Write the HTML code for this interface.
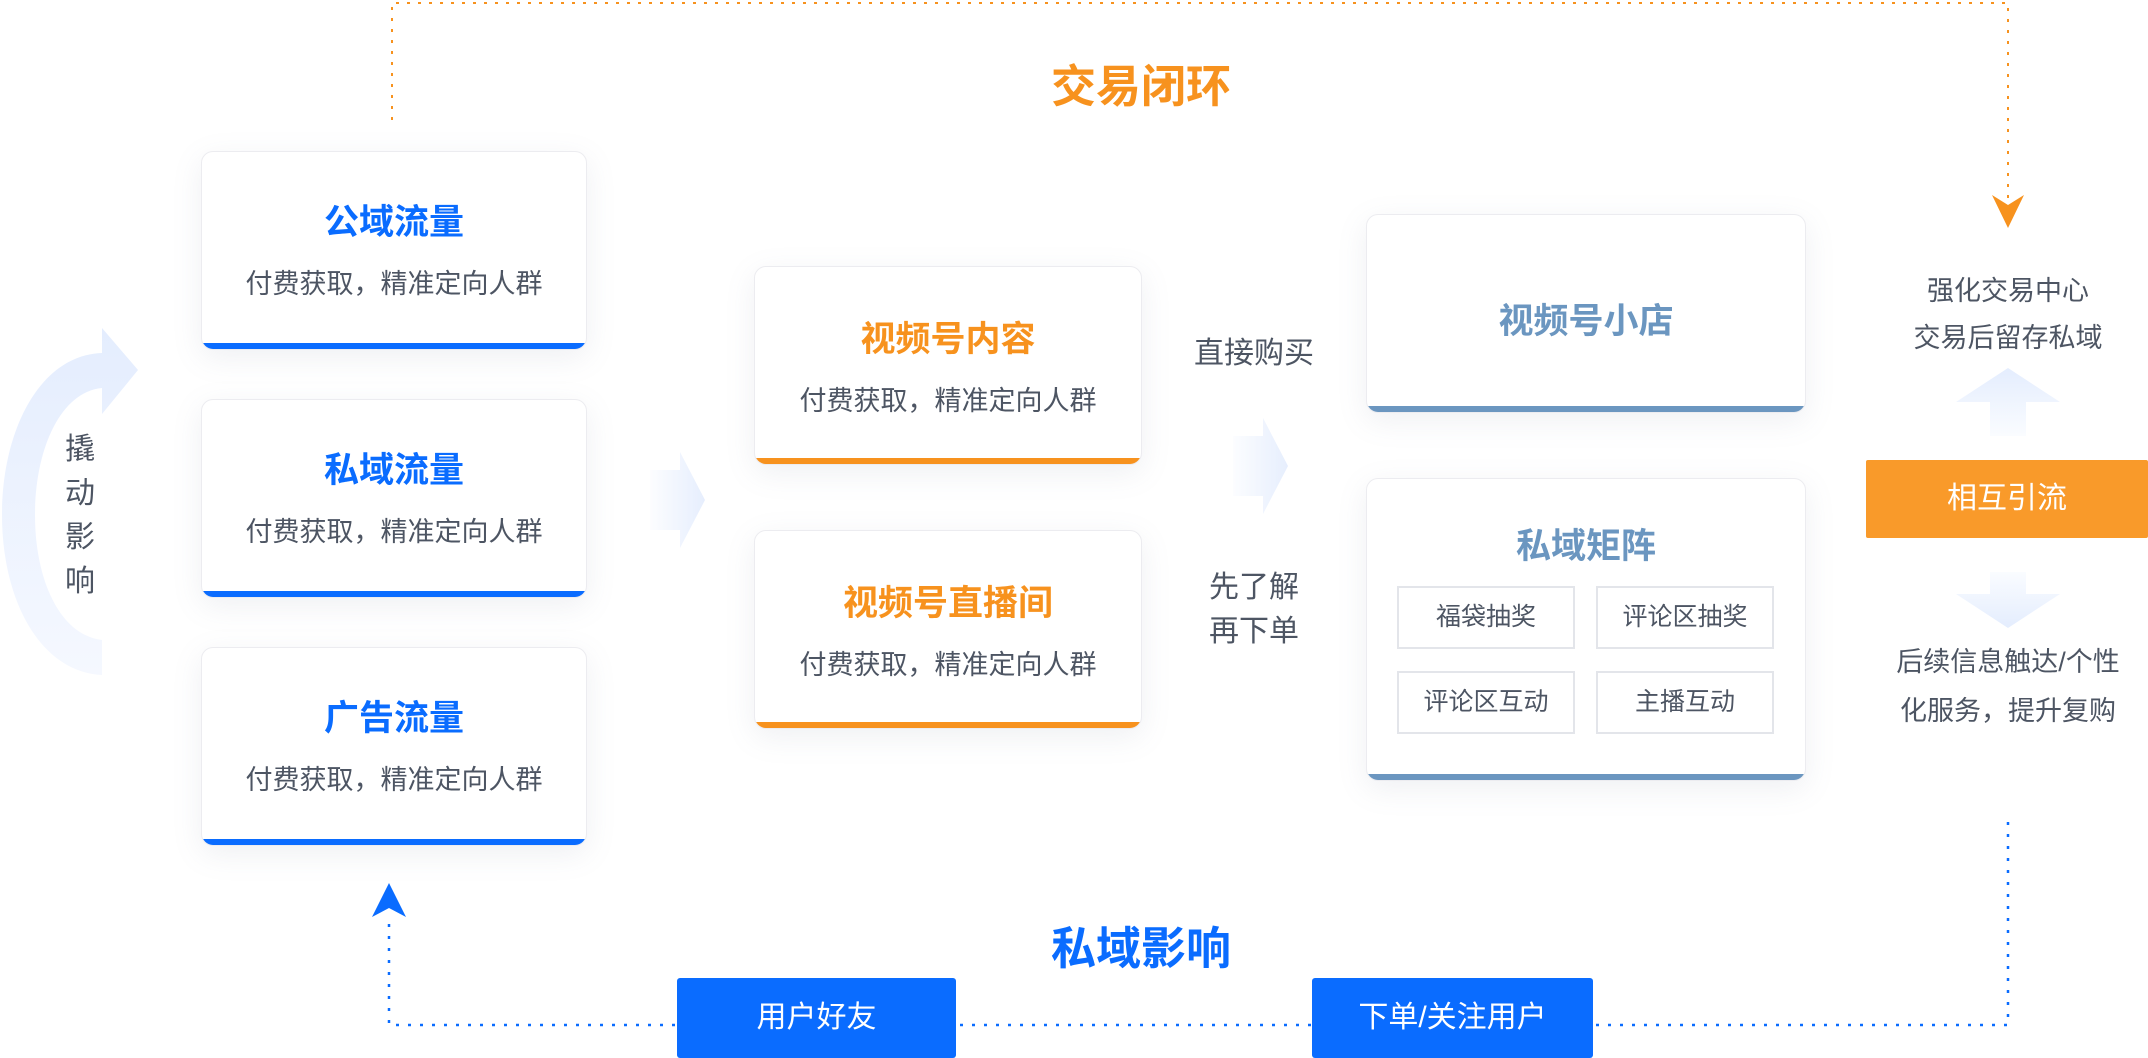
<!DOCTYPE html>
<html><head><meta charset="utf-8"><style>
body{margin:0;width:2148px;height:1058px;position:relative;background:#fff;overflow:hidden;font-family:"Liberation Sans","Noto Sans CJK SC",sans-serif;}
.a{position:absolute;}
.card{position:absolute;background:#fff;border:1px solid #ececf0;border-radius:12px;box-shadow:0 8px 30px rgba(120,130,160,0.12);box-sizing:border-box;overflow:hidden;}
.card .bar{position:absolute;left:0;right:0;bottom:0;height:6px;}
.t{position:absolute;left:0;right:0;text-align:center;white-space:nowrap;}
.sub{font-size:27px;color:#4d5563;}
.tb{font-size:35px;font-weight:bold;}
.sb{position:absolute;border:2px solid #e3e5ea;box-sizing:border-box;font-size:25px;color:#4d5563;text-align:center;width:178px;height:63px;line-height:59px;}
.btn{position:absolute;background:#0a6cff;color:#fff;font-size:30px;text-align:center;border-radius:3px;}
.gray{color:#4d5563;font-size:28px;text-align:center;white-space:nowrap;}
</style></head><body>
<svg class="a" style="left:0;top:0" width="2148" height="1058">
<defs>
<linearGradient id="g1" x1="0" y1="0" x2="0" y2="1"><stop offset="0" stop-color="#e4edfe"/><stop offset="1" stop-color="#f5f8ff"/></linearGradient>
<linearGradient id="g2" x1="0" y1="0" x2="1" y2="0"><stop offset="0" stop-color="#fcfdff"/><stop offset="1" stop-color="#e6eefd"/></linearGradient>
<linearGradient id="g3" x1="0" y1="1" x2="0" y2="0"><stop offset="0" stop-color="#fafcff"/><stop offset="1" stop-color="#e4edfe"/></linearGradient>
<linearGradient id="g4" x1="0" y1="0" x2="0" y2="1"><stop offset="0" stop-color="#fafcff"/><stop offset="1" stop-color="#e4edfe"/></linearGradient>
</defs>
<path d="M102,353 C40,355 2,430 2,515 C2,600 40,672 102,675 L102,640 C60,635 35,580 35,515 C35,450 60,392 102,388 L102,414 L138,370 L102,328 Z" fill="url(#g1)"/>
<path d="M650,470 L680,470 L680,452 L705,500 L680,548 L680,530 L650,530 Z" fill="url(#g2)"/>
<path d="M1233,436 L1263,436 L1263,418 L1288,466 L1263,514 L1263,496 L1233,496 Z" fill="url(#g2)"/>
<path d="M1990,436 L1990,402 L1956,402 L2008,368 L2060,402 L2026,402 L2026,436 Z" fill="url(#g3)"/>
<path d="M1990,572 L1990,594 L1956,594 L2008,628 L2060,594 L2026,594 L2026,572 Z" fill="url(#g4)"/>
<path d="M392,120 L392,3 L2008,3 L2008,200" fill="none" stroke="#f7921e" stroke-width="2" stroke-dasharray="3,8"/>
<path d="M1992,195 L2008,205 L2024,195 L2008,228 Z" fill="#f7921e"/>
<path d="M2008,822 L2008,1025 L389,1025 L389,915" fill="none" stroke="#0a6cff" stroke-width="2.5" stroke-dasharray="3,9"/>
<path d="M372,917 L389,883 L406,917 L389,908 Z" fill="#0a6cff"/>
</svg>
<div class="a" style="left:62px;top:428px;width:36px;font-size:30px;line-height:44px;color:#4d5563;text-align:center;">撬<br>动<br>影<br>响</div>
<div class="a" style="left:941px;top:50px;width:400px;text-align:center;font-size:45px;font-weight:bold;color:#f7921e;">交易闭环</div>
<div class="a" style="left:941px;top:912px;width:400px;text-align:center;font-size:45px;font-weight:bold;color:#0a6cff;">私域影响</div>

<div class="card" style="left:201px;top:151px;width:386px;height:199px"><div class="t tb" style="top:42px;color:#0a6cff">公域流量</div><div class="t sub" style="top:110px">付费获取，精准定向人群</div><div class="bar" style="background:#0a6cff"></div></div>
<div class="card" style="left:201px;top:399px;width:386px;height:199px"><div class="t tb" style="top:42px;color:#0a6cff">私域流量</div><div class="t sub" style="top:110px">付费获取，精准定向人群</div><div class="bar" style="background:#0a6cff"></div></div>
<div class="card" style="left:201px;top:647px;width:386px;height:199px"><div class="t tb" style="top:42px;color:#0a6cff">广告流量</div><div class="t sub" style="top:110px">付费获取，精准定向人群</div><div class="bar" style="background:#0a6cff"></div></div>

<div class="card" style="left:754px;top:266px;width:388px;height:199px"><div class="t tb" style="top:44px;color:#f7921e">视频号内容</div><div class="t sub" style="top:112px">付费获取，精准定向人群</div><div class="bar" style="background:#f7921e"></div></div>
<div class="card" style="left:754px;top:530px;width:388px;height:199px"><div class="t tb" style="top:44px;color:#f7921e">视频号直播间</div><div class="t sub" style="top:112px">付费获取，精准定向人群</div><div class="bar" style="background:#f7921e"></div></div>

<div class="a gray" style="left:1154px;top:328px;width:200px;font-size:30px;">直接购买</div>
<div class="a gray" style="left:1154px;top:566px;width:200px;line-height:44px;font-size:30px;">先了解<br>再下单</div>

<div class="card" style="left:1366px;top:214px;width:440px;height:199px"><div class="t tb" style="top:78px;color:#6b96c0">视频号小店</div><div class="bar" style="background:#6b96c0"></div></div>
<div class="card" style="left:1366px;top:478px;width:440px;height:303px"><div class="t tb" style="top:39px;color:#6b96c0">私域矩阵</div><div class="bar" style="background:#6b96c0"></div>
<div class="sb" style="left:30px;top:107px">福袋抽奖</div><div class="sb" style="left:229px;top:107px">评论区抽奖</div>
<div class="sb" style="left:30px;top:192px">评论区互动</div><div class="sb" style="left:229px;top:192px">主播互动</div></div>

<div class="a gray" style="left:1858px;top:268px;width:300px;font-size:27px;line-height:47px;">强化交易中心<br>交易后留存私域</div>
<div class="a" style="left:1866px;top:460px;width:282px;height:78px;background:#f99a2a;color:#fff;font-size:30px;line-height:78px;text-align:center;border-radius:2px;">相互引流</div>
<div class="a gray" style="left:1858px;top:638px;width:300px;font-size:27px;line-height:49px;">后续信息触达/个性<br>化服务，提升复购</div>

<div class="btn" style="left:677px;top:978px;width:279px;height:80px;line-height:80px;">用户好友</div>
<div class="btn" style="left:1312px;top:978px;width:281px;height:80px;line-height:80px;">下单/关注用户</div>
</body></html>
